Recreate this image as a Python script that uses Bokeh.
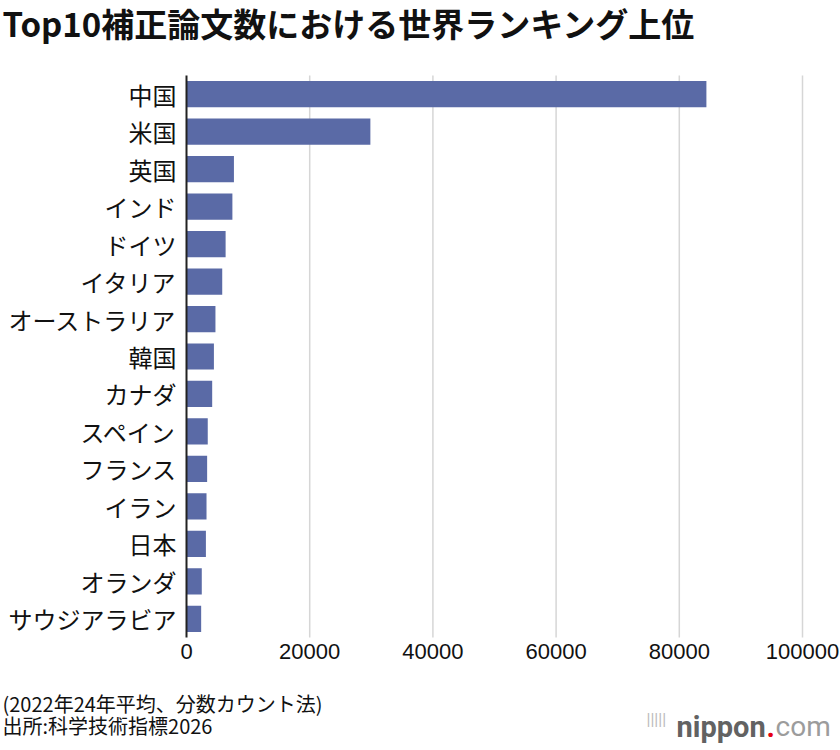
from bokeh.plotting import figure
from bokeh.models import Label, Range1d, LinearAxis, FixedTicker, BasicTickFormatter
from bokeh.embed import file_html
from bokeh.resources import INLINE

# ---- data ----
countries = ["中国", "米国", "英国", "インド", "ドイツ", "イタリア", "オーストラリア", "韓国",
             "カナダ", "スペイン", "フランス", "イラン", "日本", "オランダ", "サウジアラビア"]
papers = [84400, 29850, 7700, 7450, 6350, 5800, 4700, 4450,
          4170, 3450, 3350, 3250, 3150, 2480, 2380]
x_ticks = [0, 20000, 40000, 60000, 80000, 100000]

title_text = "Top10補正論文数における世界ランキング上位"
note1 = "(2022年24年平均、分数カウント法)"
note2 = "出所:科学技術指標2026"

# ---- layout (canvas pixels) ----
W, H = 840, 750
CL, CR, CT, CB = 186, 802, 75, 637   # chart area: left/right/top/bottom
n = len(countries)
rows = list(range(n))
xmax = x_ticks[-1]
px_x = (CR - CL) / xmax
unit_y = (CB - CT) / n

JP = "Noto Sans CJK JP"

p = figure(width=W, height=H, output_backend="svg", toolbar_location=None,
           x_axis_type=None, y_axis_type=None,
           x_range=Range1d(-CL / px_x, (W - CL) / px_x),
           y_range=Range1d(n - 0.5 + (H - CB) / unit_y, -0.5 - CT / unit_y),
           min_border=0, min_border_left=0, min_border_right=0,
           min_border_top=0, min_border_bottom=0,
           background_fill_color="white", border_fill_color="white")
p.outline_line_color = None
p.grid.visible = False

# vertical grid lines at the x ticks
p.segment(x0=x_ticks[1:], x1=x_ticks[1:], y0=-0.5, y1=n - 0.5,
          line_color="#d6d6d6", line_width=1.5)

p.hbar(y=rows, right=papers, left=0, height=0.7,
       fill_color="#5a6aa6", line_color=None)

# y axis (category names) fixed at x = 0
yax = LinearAxis(fixed_location=0, bounds=(-0.5, n - 0.5),
                 ticker=FixedTicker(ticks=rows),
                 major_label_overrides={i: c for i, c in zip(rows, countries)})
yax.axis_line_color = "#222222"
yax.axis_line_width = 2
yax.major_tick_line_color = None
yax.minor_tick_line_color = None
yax.major_tick_out = 0
yax.major_tick_in = 0
yax.major_label_text_font = JP
yax.major_label_text_font_size = "24px"
yax.major_label_text_color = "#111111"
yax.major_label_standoff = 10
p.add_layout(yax, "left")

# x axis fixed at the bottom of the bars
xax = LinearAxis(fixed_location=n - 0.5, bounds=(0, xmax),
                 ticker=FixedTicker(ticks=x_ticks),
                 formatter=BasicTickFormatter(use_scientific=False))
xax.axis_line_color = None
xax.major_tick_line_color = None
xax.minor_tick_line_color = None
xax.major_tick_out = 0
xax.major_tick_in = 0
xax.major_label_text_font = "Liberation Sans"
xax.major_label_text_font_size = "22px"
xax.major_label_text_color = "#111111"
xax.major_label_standoff = 6
p.add_layout(xax, "below")


def lab(text, cx, cy, size, color="#111111", font=JP, style="normal",
        align="left", baseline="middle"):
    p.add_layout(Label(x=cx, y=H - cy, x_units="screen", y_units="screen",
                       text=text, text_font=font, text_font_size=size,
                       text_color=color, text_font_style=style,
                       text_align=align, text_baseline=baseline))


lab(title_text, 2, 22, "33px", style="bold")
lab(note1, 2, 703, "20px")
lab(note2, 2, 725, "20px")
lab("|||||", 646, 719, "16px", color="#bbbbbb", font="Roboto")
lab("nippon", 676, 726, "29px", color="#626262", font="Roboto", style="bold", baseline="alphabetic")
lab(".", 766, 726, "29px", color="#e60012", font="Roboto", style="bold", baseline="alphabetic")
lab("com", 775, 726, "28px", color="#9c9c9c", font="Roboto", baseline="alphabetic")

open("out.html", "w").write(file_html(p, INLINE))
